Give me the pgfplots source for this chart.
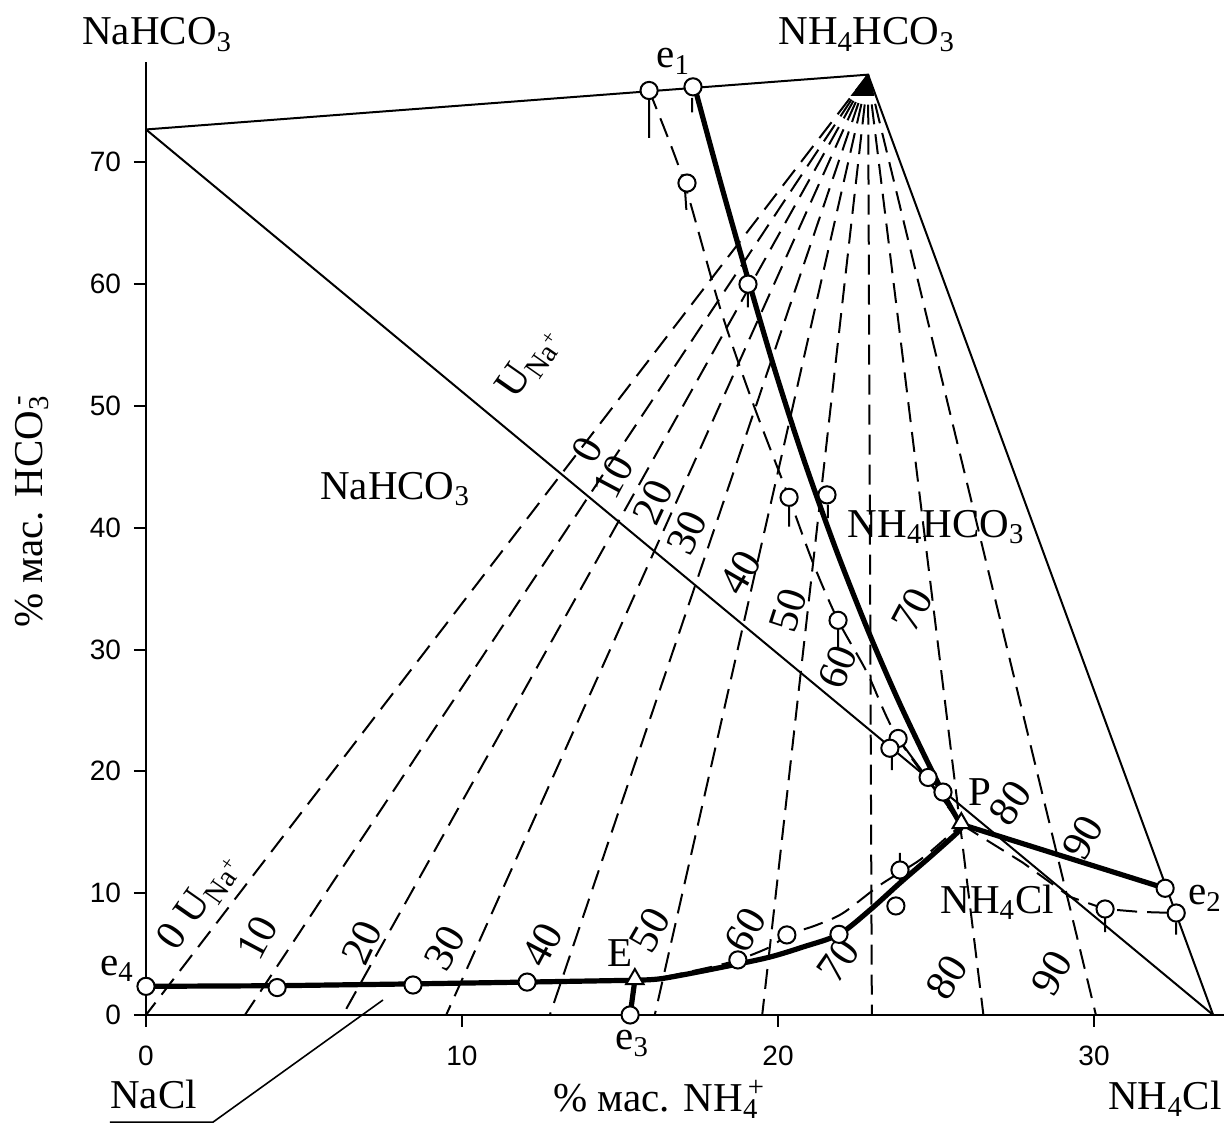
\documentclass[border=0pt]{standalone}
\usepackage{fontspec}
\setmainfont{Liberation Serif}
\setsansfont{Liberation Sans}
\usepackage{pgfplots}
\pgfplotsset{compat=1.18}
\newcommand{\lbl}{\fontsize{20.5}{24}\selectfont}
\newcommand{\num}{\fontsize{21}{24}\selectfont}
\tikzset{
  fan/.style={line width=1pt, dash pattern=on 10pt off 5pt},
  meta/.style={line width=1pt, dash pattern=on 10pt off 5pt},
  thick curve/.style={line width=2.6pt},
  thin line/.style={line width=1pt},
  pin/.style={line width=1pt},
  flbl/.style={font=\num, inner sep=0pt, anchor=center},
  tlbl/.style={font=\lbl, inner sep=0pt, anchor=base west},
}
\pgfplotsset{
  circ/.style={only marks, mark=*, mark size=4.3pt, mark options={fill=white, draw=black, line width=1pt}},
  tri/.style={only marks, mark=triangle*, mark size=5pt, mark options={fill=white, draw=black, line width=1pt}},
}
\begin{document}
\begin{tikzpicture}
\begin{axis}[
  x=15.8pt, y=6.09pt,
  xmin=0, xmax=34.1, ymin=0, ymax=78.2,
  axis lines=left,
  axis line style={-, line width=1pt},
  clip=false,
  xtick={0,10,20,30}, ytick={0,10,20,30,40,50,60,70},
  tick align=outside,
  major tick length=6pt,
  tick style={line width=1pt, black},
  ticklabel style={font=\sffamily\fontsize{14}{16}\selectfont},
  /pgf/number format/assume math mode=true,
  xticklabel style={yshift=-6pt},
  yticklabel style={xshift=-3pt},
]
% triangle of the system
\addplot[thin line] coordinates {(0,72.7) (22.85,77.2) (33.77,0)};
\addplot[thin line] coordinates {(0,72.7) (33.77,0)};
\addplot[thin line] coordinates {(23.8,22.7) (25.8,15.65)};
% fan of constant U_Na+ lines
\addplot[fan] coordinates {(22.85,77.2) (0,0)};
\addplot[fan] coordinates {(22.85,77.2) (3.13,0)};
\addplot[fan] coordinates {(22.85,77.2) (6.23,0)};
\addplot[fan] coordinates {(22.85,77.2) (9.5,0)};
\addplot[fan] coordinates {(22.85,77.2) (12.78,0)};
\addplot[fan] coordinates {(22.85,77.2) (16.1,0)};
\addplot[fan] coordinates {(22.85,77.2) (19.5,0)};
\addplot[fan] coordinates {(22.85,77.2) (22.97,0)};
\addplot[fan] coordinates {(22.85,77.2) (26.5,0)};
\addplot[fan] coordinates {(22.85,77.2) (30.06,0)};
\addplot[fill=black, draw=black, line width=0.5pt] coordinates {(22.85,77.2) (22.33,75.5) (23.03,75.5) (22.85,77.2)};
% metastable (dashed) curves
\addplot[meta, smooth, tension=0.5] coordinates {(15.92,75.9) (17.0,68.6) (18.16,58.1) (19.21,50.2) (20.3,42.8) (21.11,37.1) (21.9,32.4) (22.82,28.1) (23.8,22.7) (25.8,15.65)};
\addplot[meta, smooth, tension=0.5] coordinates {(16.36,3.1) (17.75,3.86) (18.73,4.52) (19.75,5.58) (20.32,6.57) (21.23,7.39) (22.06,8.37) (23.23,10.67) (24.49,12.73) (25.35,14.6) (25.8,15.6)};
\addplot[meta] coordinates {(25.8,15.65) (27.75,12.5) (29.24,9.7) (30.35,8.7) (31.46,8.46) (32.6,8.37)};
% stable (solid) curves
\addplot[thick curve, smooth, tension=0.5] coordinates {(17.37,76.1) (18.16,68.55) (18.99,60.97) (19.9,52.96) (20.82,45.57) (21.84,38.18) (22.88,31.36) (23.8,25.86) (24.7,20.94) (25.34,17.65) (25.79,15.6)};
\addplot[thick curve] coordinates {(0,2.35) (4.15,2.4) (8.45,2.55) (12.06,2.7) (15.47,2.85)};
\addplot[thick curve, smooth, tension=0.5] coordinates {(15.47,2.87) (16.36,3.0) (18.48,4.05) (19.75,4.76) (20.79,5.58) (21.93,6.62) (22.91,8.62) (23.86,10.84) (24.81,12.97) (25.66,14.94) (25.82,15.5)};
\addplot[thick curve] coordinates {(25.8,15.65) (32.25,10.4)};
\addplot[thick curve] coordinates {(15.32,0) (15.47,2.87)};
% pins of the solid phases
\addplot[pin, unbounded coords=jump] coordinates {
 (15.92,75.3) (15.92,72.0) (nan,nan)
 (17.28,75.3) (17.28,74.1) (nan,nan)
 (17.06,67.6) (17.1,66.1) (nan,nan)
 (19.05,59.3) (19.05,58.1) (nan,nan)
 (20.35,41.9) (20.35,40.1) (nan,nan)
 (21.58,41.9) (21.58,40.8) (nan,nan)
 (21.9,31.6) (21.9,30.2) (nan,nan)
 (23.6,21.2) (23.6,20.1) (nan,nan)
 (23.86,13.3) (23.86,11.0) (nan,nan)
 (30.35,8.0) (30.35,6.8) (nan,nan)
 (32.6,7.6) (32.6,6.6)
};
% experimental points
\addplot[circ] coordinates {
 (15.92,75.9) (17.31,76.2) (17.12,68.3) (19.05,60.0) (20.35,42.5) (21.55,42.7)
 (21.9,32.4) (23.8,22.7) (23.54,21.9) (24.75,19.5) (25.22,18.3)
 (0,2.35) (4.15,2.25) (8.45,2.46) (12.06,2.7) (15.32,0)
 (18.73,4.52) (20.28,6.57) (21.93,6.62) (23.73,8.95) (23.86,11.9)
 (30.35,8.7) (32.25,10.4) (32.6,8.37)
};
\addplot[tri] coordinates {(15.47,2.95) (25.8,15.75)};
% leader for NaCl
\draw[line width=0.8pt] (axis cs:7.5,1.23) -- (axis cs:2.12,-8.8) -- (axis cs:-1.14,-8.8);
% text labels
\node[tlbl] at (axis cs:-2.03,79.64) {NaHCO\textsubscript{3}};
\node[tlbl] at (axis cs:20.0,79.64) {NH\textsubscript{4}HCO\textsubscript{3}};
\node[tlbl] at (axis cs:16.14,77.75) {e\textsubscript{1}};
\node[tlbl] at (axis cs:5.5,42.3) {NaHCO\textsubscript{3}};
\node[tlbl] at (axis cs:22.2,39.2) {NH\textsubscript{4}HCO\textsubscript{3}};
\node[tlbl] at (axis cs:26.0,17.2) {P};
\node[tlbl] at (axis cs:25.13,8.37) {NH\textsubscript{4}Cl};
\node[tlbl] at (axis cs:32.97,9.03) {e\textsubscript{2}};
\node[tlbl] at (axis cs:14.59,3.94) {E};
\node[tlbl] at (axis cs:14.84,-2.87) {e\textsubscript{3}};
\node[tlbl] at (axis cs:-1.46,3.28) {e\textsubscript{4}};
\node[tlbl] at (axis cs:-1.14,-7.64) {NaCl};
\node[tlbl] at (axis cs:30.44,-7.8) {NH\textsubscript{4}Cl};
\node[tlbl] at (axis cs:12.88,-7.96) {\% мас. NH\rlap{\textsubscript{4}}\textsuperscript{\,+}};
\node[tlbl, rotate=90] at (axis cs:-3.29,31.77) {\% мас. HCO\rlap{\textsubscript{3}}\textsuperscript{\,-}};
% U_Na+ labels (upper)
\node[flbl, rotate=55] at (axis cs:12.15,53.5) {U\textsubscript{Na\textsuperscript{+}}};
\node[flbl, rotate=62] at (axis cs:13.96,46.4) {0};
\node[flbl, rotate=62] at (axis cs:14.78,44.2) {10};
\node[flbl, rotate=65] at (axis cs:16.04,42.1) {20};
\node[flbl, rotate=65] at (axis cs:17.12,39.6) {30};
\node[flbl, rotate=60] at (axis cs:18.8,36.3) {40};
\node[flbl, rotate=72] at (axis cs:20.32,33.25) {50};
\node[flbl, rotate=68] at (axis cs:21.9,28.57) {60};
\node[flbl, rotate=62] at (axis cs:24.24,33.25) {70};
\node[flbl, rotate=55] at (axis cs:27.34,17.4) {80};
\node[flbl, rotate=60] at (axis cs:29.65,14.6) {90};
% U_Na+ labels (lower)
\node[flbl, rotate=55] at (axis cs:1.7,9.3) {0 U\textsubscript{Na\textsuperscript{+}}};
\node[flbl, rotate=62] at (axis cs:3.51,6.32) {10};
\node[flbl, rotate=65] at (axis cs:6.84,5.9) {20};
\node[flbl, rotate=60] at (axis cs:9.46,5.5) {30};
\node[flbl, rotate=62] at (axis cs:12.53,5.75) {40};
\node[flbl, rotate=60] at (axis cs:15.95,6.98) {50};
\node[flbl, rotate=60] at (axis cs:18.96,6.98) {60};
\node[flbl, rotate=55] at (axis cs:21.9,4.5) {70};
\node[flbl, rotate=58] at (axis cs:25.35,3.12) {80};
\node[flbl, rotate=60] at (axis cs:28.67,3.45) {90};
\coordinate (bbSW) at (axis cs:-4.62,-9.852);
\coordinate (bbNE) at (axis cs:34.335,83.33);
\end{axis}
\pgfresetboundingbox
\useasboundingbox (bbSW) rectangle (bbNE);
\end{tikzpicture}
\end{document}
